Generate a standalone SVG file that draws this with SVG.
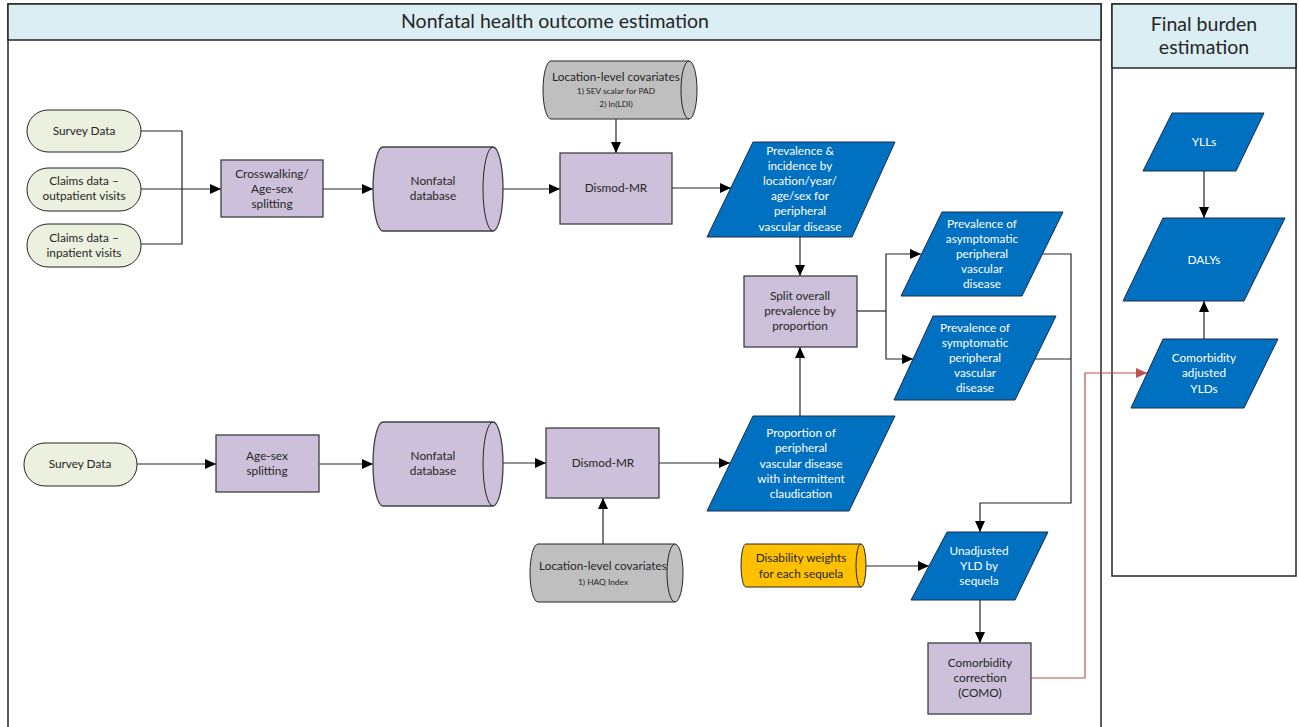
<svg xmlns="http://www.w3.org/2000/svg" width="1299" height="727" viewBox="0 0 1299 727">
<style>
text{font-family:Lato,"Open Sans","Liberation Sans",sans-serif;font-size:11.8px;fill:#262626;text-anchor:middle}
.t{font-size:19.5px}
.w{fill:#ffffff}
.s{font-size:8.4px}
.panel{fill:#ffffff;stroke:#262626;stroke-width:1.5}
.hdr{fill:#DAEEF3;stroke:#262626;stroke-width:1.5}
.term{fill:#EBF1DE;stroke:#262626;stroke-width:1}
.proc{fill:#CCC0DA;stroke:#404040;stroke-width:1.3}
.data{fill:#0070C0;stroke:#1F2A44;stroke-width:1}
.gray{fill:#BFBFBF;stroke:#262626;stroke-width:1}
.org{fill:#FFC000;stroke:#262626;stroke-width:1}
.cap{fill:none;stroke:#262626;stroke-width:1}
.c{fill:none;stroke:#262626;stroke-width:1.2}
.r{fill:none;stroke:#C0504D;stroke-width:1.2}
</style>
<defs>
<marker id="ah" markerUnits="userSpaceOnUse" markerWidth="12" markerHeight="10" refX="11" refY="5" orient="auto"><path d="M0,0 L11,5 L0,10 Z" fill="#000"/></marker>
<marker id="ahr" markerUnits="userSpaceOnUse" markerWidth="12" markerHeight="10" refX="11" refY="5" orient="auto"><path d="M0,0 L11,5 L0,10 Z" fill="#C0504D"/></marker>
</defs>
<rect width="1299" height="727" fill="#ffffff"/>
<g id="panel-nonfatal">
<rect class="panel" x="8" y="4" width="1093" height="740"/>
<rect class="hdr" x="8" y="4" width="1093" height="36"/>
<text class="t" x="555" y="28">Nonfatal health outcome estimation</text>
</g>
<g id="panel-final">
<rect class="panel" x="1112" y="4" width="184" height="572"/>
<rect class="hdr" x="1112" y="4" width="184" height="64"/>
<text class="t" x="1204" y="31">Final burden</text>
<text class="t" x="1204" y="54">estimation</text>
</g>
<g id="connectors">
<path class="c" d="M141,131 H182 V244 H141"/>
<path class="c" d="M141,189 H221" marker-end="url(#ah)"/>
<path class="c" d="M323,189 H373" marker-end="url(#ah)"/>
<path class="c" d="M503,189 H560" marker-end="url(#ah)"/>
<path class="c" d="M616,118 V153" marker-end="url(#ah)"/>
<path class="c" d="M672,188 H731" marker-end="url(#ah)"/>
<path class="c" d="M800,237 V276" marker-end="url(#ah)"/>
<path class="c" d="M800,416 V347" marker-end="url(#ah)"/>
<path class="c" d="M857,311 H886"/>
<path class="c" d="M886,311 V254 H921" marker-end="url(#ah)"/>
<path class="c" d="M886,311 V359 H913" marker-end="url(#ah)"/>
<path class="c" d="M1042,254 H1071 V503 H980 V532" marker-end="url(#ah)"/>
<path class="c" d="M1035,359 H1071"/>
<path class="c" d="M137,464 H216" marker-end="url(#ah)"/>
<path class="c" d="M319,464 H373" marker-end="url(#ah)"/>
<path class="c" d="M485,463 H546" marker-end="url(#ah)"/>
<path class="c" d="M659,463 H730" marker-end="url(#ah)"/>
<path class="c" d="M603,544 V498" marker-end="url(#ah)"/>
<path class="c" d="M861,566 H929" marker-end="url(#ah)"/>
<path class="c" d="M980,600 V643" marker-end="url(#ah)"/>
<path class="r" d="M1031,678 H1085 V373 H1147" marker-end="url(#ahr)"/>
<path class="c" d="M1204,171 V218" marker-end="url(#ah)"/>
<path class="c" d="M1204,339 V301" marker-end="url(#ah)"/>
</g>
<g id="survey-data-1">
<rect class="term" x="27" y="110" width="114" height="42" rx="21"/>
<text x="84" y="135">Survey Data</text>
</g>
<g id="claims-outpatient">
<rect class="term" x="27" y="168" width="114" height="43" rx="21"/>
<text x="84" y="185">Claims data –</text>
<text x="84" y="200">outpatient visits</text>
</g>
<g id="claims-inpatient">
<rect class="term" x="27" y="224" width="114" height="43" rx="21"/>
<text x="84" y="242">Claims data –</text>
<text x="84" y="257">inpatient visits</text>
</g>
<g id="crosswalking">
<rect class="proc" x="221" y="160" width="102" height="57"/>
<text x="272" y="178">Crosswalking/</text>
<text x="272" y="193">Age-sex</text>
<text x="272" y="208">splitting</text>
</g>
<g id="nonfatal-db-1">
<path class="proc" d="M383,147 H493 A10,42 0 0 1 493,231 H383 A10,42 0 0 1 383,147 Z"/>
<path class="cap" d="M493,147 A10,42 0 0 0 493,231"/>
<text x="433" y="185">Nonfatal</text>
<text x="433" y="200">database</text>
</g>
<g id="covariates-1">
<path class="gray" d="M551,61 H689 A8,29 0 0 1 689,119 H551 A8,29 0 0 1 551,61 Z"/>
<path class="cap" d="M689,61 A8,29 0 0 0 689,119"/>
<text x="616" y="81">Location-level covariates</text>
<text class="s" x="616" y="94">1) SEV scalar for PAD</text>
<text class="s" x="616" y="107">2) ln(LDI)</text>
</g>
<g id="dismod-1">
<rect class="proc" x="560" y="153" width="112" height="71"/>
<text x="616" y="192">Dismod-MR</text>
</g>
<g id="prev-incidence">
<polygon class="data" points="753,142 895,142 852,237 707,237"/>
<text class="w" x="800" y="155">Prevalence &amp;</text>
<text class="w" x="800" y="170">incidence by</text>
<text class="w" x="800" y="185">location/year/</text>
<text class="w" x="800" y="200">age/sex for</text>
<text class="w" x="800" y="215">peripheral</text>
<text class="w" x="800" y="231">vascular disease</text>
</g>
<g id="split">
<rect class="proc" x="744" y="276" width="113" height="71"/>
<text x="800" y="300">Split overall</text>
<text x="800" y="315">prevalence by</text>
<text x="800" y="330">proportion</text>
</g>
<g id="prev-asymptomatic">
<polygon class="data" points="942,212 1063,212 1022,296 901,296"/>
<text class="w" x="982" y="228">Prevalence of</text>
<text class="w" x="982" y="243">asymptomatic</text>
<text class="w" x="982" y="258">peripheral</text>
<text class="w" x="982" y="273">vascular</text>
<text class="w" x="982" y="288">disease</text>
</g>
<g id="prev-symptomatic">
<polygon class="data" points="933,316 1056,316 1015,400 894,400"/>
<text class="w" x="975" y="332">Prevalence of</text>
<text class="w" x="975" y="347">symptomatic</text>
<text class="w" x="975" y="362">peripheral</text>
<text class="w" x="975" y="377">vascular</text>
<text class="w" x="975" y="392">disease</text>
</g>
<g id="survey-data-2">
<rect class="term" x="24" y="443" width="113" height="43" rx="21"/>
<text x="80" y="468">Survey Data</text>
</g>
<g id="age-sex-splitting">
<rect class="proc" x="216" y="435" width="103" height="57"/>
<text x="267" y="460">Age-sex</text>
<text x="267" y="475">splitting</text>
</g>
<g id="nonfatal-db-2">
<path class="proc" d="M383,422 H493 A10,42 0 0 1 493,506 H383 A10,42 0 0 1 383,422 Z"/>
<path class="cap" d="M493,422 A10,42 0 0 0 493,506"/>
<text x="433" y="460">Nonfatal</text>
<text x="433" y="475">database</text>
</g>
<g id="dismod-2">
<rect class="proc" x="546" y="428" width="113" height="70"/>
<text x="603" y="467">Dismod-MR</text>
</g>
<g id="covariates-2">
<path class="gray" d="M538,544 H675 A8,29 0 0 1 675,602 H538 A8,29 0 0 1 538,544 Z"/>
<path class="cap" d="M675,544 A8,29 0 0 0 675,602"/>
<text x="603" y="570">Location-level covariates</text>
<text class="s" x="603" y="585">1) HAQ Index</text>
</g>
<g id="proportion">
<polygon class="data" points="753,416 895,416 849,511 707,511"/>
<text class="w" x="801" y="437">Proportion of</text>
<text class="w" x="801" y="452">peripheral</text>
<text class="w" x="801" y="468">vascular disease</text>
<text class="w" x="801" y="483">with intermittent</text>
<text class="w" x="801" y="498">claudication</text>
</g>
<g id="disability-weights">
<path class="org" d="M746,544 H861 A5,21.5 0 0 1 861,587 H746 A5,21.5 0 0 1 746,544 Z"/>
<path class="cap" d="M861,544 A5,21.5 0 0 0 861,587"/>
<text x="801" y="562">Disability weights</text>
<text x="801" y="578">for each sequela</text>
</g>
<g id="unadjusted-yld">
<polygon class="data" points="947,532 1048,532 1015,600 911,600"/>
<text class="w" x="979" y="555">Unadjusted</text>
<text class="w" x="979" y="570">YLD by</text>
<text class="w" x="979" y="585">sequela</text>
</g>
<g id="como">
<rect class="proc" x="928" y="643" width="103" height="71"/>
<text x="980" y="667">Comorbidity</text>
<text x="980" y="682">correction</text>
<text x="980" y="697">(COMO)</text>
</g>
<g id="ylls">
<polygon class="data" points="1172,113 1264,113 1236,171 1143,171"/>
<text class="w" x="1204" y="146">YLLs</text>
</g>
<g id="dalys">
<polygon class="data" points="1163,218 1285,218 1244,301 1123,301"/>
<text class="w" x="1204" y="264">DALYs</text>
</g>
<g id="comorbidity-adjusted-ylds">
<polygon class="data" points="1163,339 1278,339 1244,408 1131,408"/>
<text class="w" x="1204" y="362">Comorbidity</text>
<text class="w" x="1204" y="377">adjusted</text>
<text class="w" x="1204" y="393">YLDs</text>
</g>
</svg>
